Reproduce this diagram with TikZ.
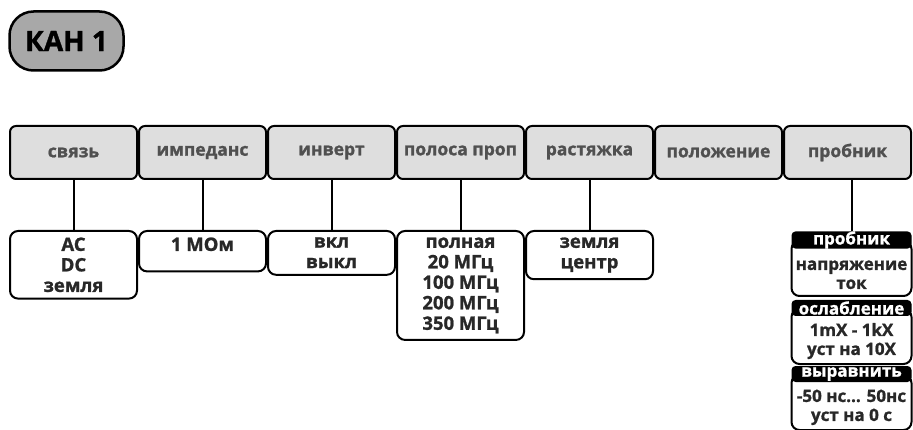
\documentclass[tikz,border=0pt]{standalone}
\usepackage{fontspec}
\setmainfont{Open Sans}[BoldFeatures={FakeBold=1.2}]
\usetikzlibrary{positioning}
\usepackage{xcolor}

\definecolor{hdrgray}{RGB}{222,222,222}
\definecolor{chgray}{RGB}{168,168,168}
\definecolor{hdrtext}{RGB}{80,80,80}
\definecolor{opttext}{RGB}{40,40,40}

\begin{document}
\begin{tikzpicture}[
    x=1pt, y=-1pt,
    chan/.style={draw, line width=2.5pt, rounded corners=24pt, fill=chgray, minimum width=114pt, minimum height=59pt, font=\fontsize{28}{32}\selectfont\bfseries},
    hdr/.style={draw, line width=2pt, rounded corners=6pt, fill=hdrgray, minimum width=127pt, minimum height=53pt, font=\fontsize{17.5}{20}\selectfont\bfseries, text=hdrtext},
    opt/.style={draw, line width=2pt, rounded corners=8pt, minimum width=127pt, inner ysep=6.5pt, align=center, font=\fontsize{18.5}{20.5}\selectfont\bfseries, text=opttext},
    pbox/.style={draw, line width=2pt, rounded corners=8pt, minimum width=120pt, minimum height=55pt, inner ysep=4pt, align=center, font=\fontsize{17}{19}\selectfont\bfseries, text=opttext},
    badge/.style={fill=black, rounded corners=4pt, minimum width=120pt, minimum height=16pt, inner sep=0pt, text=white, font=\fontsize{17}{18}\selectfont\bfseries},
    link/.style={line width=2pt}
]
    \useasboundingbox (0,0) rectangle (913,430);

    % channel button
    \node[chan] (kan) at (66.5,41) {КАН 1};

    % menu row
    \node[hdr] (hdr1) at (73.5,152.5) {связь};
    \node[hdr, right=0pt of hdr1] (hdr2) {импеданс};
    \node[hdr, right=0pt of hdr2] (hdr3) {инверт};
    \node[hdr, right=0pt of hdr3] (hdr4) {полоса проп};
    \node[hdr, right=0pt of hdr4] (hdr5) {растяжка};
    \node[hdr, right=0pt of hdr5] (hdr6) {положение};
    \node[hdr, right=0pt of hdr6] (hdr7) {пробник};

    % option boxes
    \node[opt, below=50pt of hdr1] (opt1) {AC\\DC\\земля};
    \node[opt, below=50pt of hdr2, text depth=14pt] (opt2) {1 МОм};
    \node[opt, below=50pt of hdr3] (opt3) {вкл\\выкл};
    \node[opt, below=50pt of hdr4] (opt4) {полная\\20 МГц\\100 МГц\\200 МГц\\350 МГц};
    \node[opt, below=50pt of hdr5] (opt5) {земля\\центр};

    % probe submenu
    \node[pbox, below=60pt of hdr7, xshift=4pt] (pbox1) {\rule{0pt}{22pt}напряжение\\ток};
    \node[pbox, below=11pt of pbox1] (pbox2) {\rule{0pt}{22pt}1mX - 1kX\\уст на 10X};
    \node[pbox, below=9pt of pbox2] (pbox3) {\rule{0pt}{22pt}-50 нс... 50нс\\уст на 0 с};
    \node[badge] (pcap1) at (pbox1.north) {пробник};
    \node[badge] (pcap2) at (pbox2.north) {ослабление};
    \node[badge] (pcap3) at (pbox3.north) {выравнить};

    % connectors
    \foreach \i in {1,...,5}
        \draw[link] (hdr\i.south) -- (opt\i.north);
    \draw[link] (hdr7.south -| pcap1.north) -- (pcap1.north);
\end{tikzpicture}
\end{document}
